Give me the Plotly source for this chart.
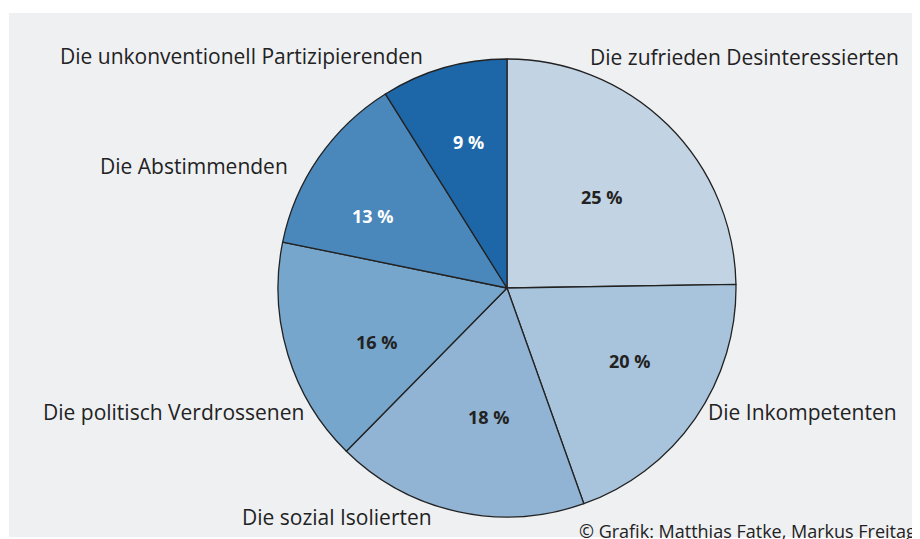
import plotly.graph_objects as go

categories = [
    "Die zufrieden Desinteressierten",
    "Die Inkompetenten",
    "Die sozial Isolierten",
    "Die politisch Verdrossenen",
    "Die Abstimmenden",
    "Die unkonventionell Partizipierenden",
]
values = [25, 20, 18, 16, 13, 9]
pct_labels = [f"{v} %" for v in values]
colors = ["#c2d3e3", "#a8c4dc", "#92b4d4", "#77a6cc", "#4a87bb", "#1d67a8"]
text_colors = ["#222222", "#222222", "#222222", "#222222", "#ffffff", "#ffffff"]

W, H = 920, 539
OFF = 8  # page body margin offset


def px(x):
    return (x - OFF) / W


def py(y):
    return 1 - (y - OFF) / H


cx, cy, r = 507, 288, 229

fig = go.Figure()
fig.add_trace(go.Pie(
    labels=categories,
    values=values,
    textinfo="none",
    marker=dict(colors=colors, line=dict(color="#222222", width=1.3)),
    sort=False,
    direction="clockwise",
    rotation=0,
    showlegend=False,
    hoverinfo="label+percent",
    domain=dict(x=[px(cx - r), px(cx + r)], y=[py(cy + r), py(cy - r)]),
))

pct_pos = [(601, 197), (629, 361), (488, 417), (376, 342), (372, 216), (468, 142)]
for t, (x, y), c in zip(pct_labels, pct_pos, text_colors):
    fig.add_annotation(x=px(x), y=py(y), xref="paper", yref="paper", text=f"<b>{t}</b>",
                       showarrow=False, xanchor="center", yanchor="middle",
                       font=dict(family="Open Sans", size=18, color=c))

label_pos = [
    (588, 57, "left"),
    (706, 412, "left"),
    (434, 517, "right"),
    (306, 412, "right"),
    (290, 166, "right"),
    (425, 56, "right"),
]
for name, (x, y, anchor) in zip(categories, label_pos):
    fig.add_annotation(x=px(x), y=py(y), xref="paper", yref="paper", text=name,
                       showarrow=False, xanchor=anchor, yanchor="middle",
                       font=dict(family="Open Sans", size=21, color="#222222"))

fig.add_annotation(x=px(577), y=py(531), xref="paper", yref="paper",
                   text="© Grafik: Matthias Fatke, Markus Freitag", showarrow=False,
                   xanchor="left", yanchor="middle",
                   font=dict(family="Open Sans", size=18, color="#222222"))

fig.add_shape(type="rect", xref="paper", yref="paper", x0=px(9), x1=1.0,
              y0=py(537), y1=py(13), fillcolor="#eff0f2", line=dict(width=0), layer="below")

fig.update_layout(width=W, height=H, margin=dict(l=0, r=0, t=0, b=0),
                  paper_bgcolor="#ffffff", plot_bgcolor="#ffffff")
fig.write_html("out.html")
